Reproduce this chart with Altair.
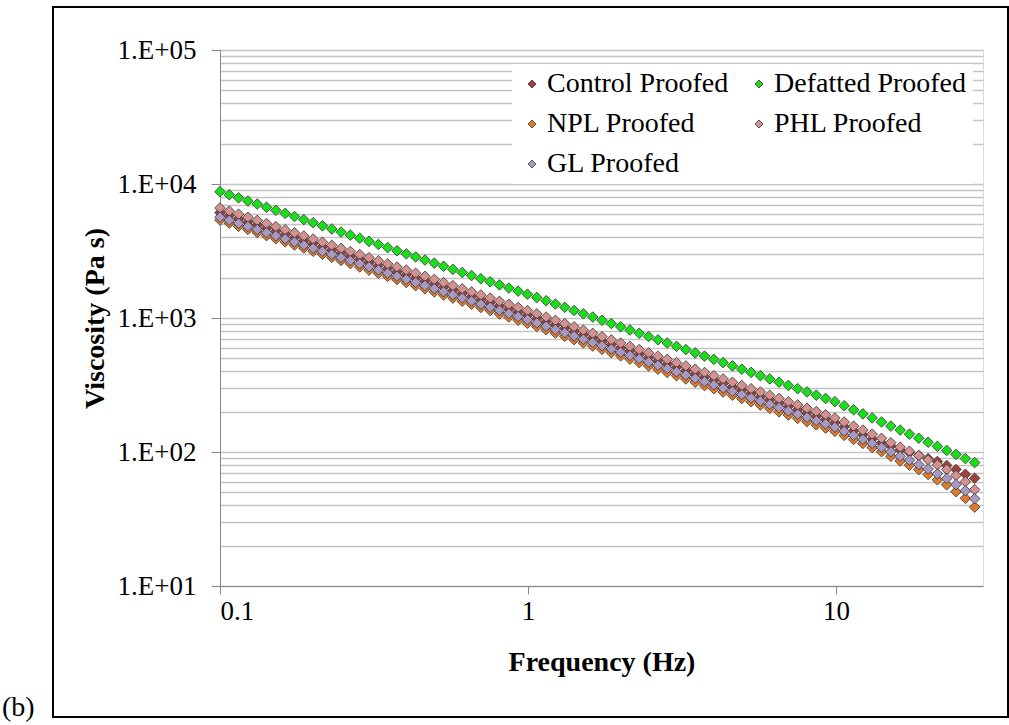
import altair as alt
import pandas as pd

FONT = "Liberation Serif"

# Frequency (Hz), one value per measured point
freq = [
    0.1, 0.1072, 0.1149, 0.1232, 0.1321, 0.1416, 0.1518, 0.1628, 0.1745, 0.1871,
    0.2006, 0.2151, 0.2306, 0.2472, 0.2650, 0.2842, 0.3047, 0.3267, 0.3502, 0.3755,
    0.4026, 0.4316, 0.4628, 0.4962, 0.5320, 0.5703, 0.6115, 0.6556, 0.7029, 0.7536,
    0.8080, 0.8663, 0.9288, 0.9958, 1.068, 1.145, 1.227, 1.316, 1.411, 1.512,
    1.622, 1.739, 1.864, 1.999, 2.143, 2.297, 2.463, 2.641, 2.831, 3.035,
    3.254, 3.489, 3.741, 4.011, 4.300, 4.610, 4.943, 5.299, 5.681, 6.091,
    6.530, 7.001, 7.506, 8.047, 8.628, 9.250, 9.915, 10.63, 11.40, 12.22,
    13.10, 14.05, 15.06, 16.15, 17.31, 18.56, 19.90, 21.33, 22.87, 24.52,
    26.29, 28.18,
]

control = [
    6110, 5793, 5492, 5206, 4935, 4678, 4435, 4203, 3985, 3779,
    3582, 3395, 3219, 3051, 2892, 2742, 2599, 2464, 2336, 2214,
    2100, 1990, 1887, 1789, 1695, 1608, 1523, 1445, 1369, 1298,
    1230, 1166, 1106, 1049, 991.8, 937.4, 886.2, 838.2, 792.1, 748.9,
    708.6, 669.9, 633.5, 599.0, 566.5, 535.6, 506.5, 478.8, 452.7, 428.2,
    404.8, 382.8, 361.9, 342.3, 323.6, 306.0, 289.4, 273.6, 258.6, 244.6,
    231.3, 218.8, 206.8, 195.6, 185.0, 174.9, 165.4, 154.3, 143.8, 134.2,
    125.2, 116.7, 110.8, 103.9, 99.1, 94.1, 89.2, 85.0, 79.4, 74.1,
    68.2, 63.7,
]

defatted = [
    8770, 8315, 7883, 7472, 7084, 6714, 6365, 6034, 5720, 5423,
    5140, 4873, 4620, 4379, 4152, 3936, 3731, 3537, 3353, 3178,
    3013, 2856, 2708, 2567, 2433, 2307, 2187, 2073, 1965, 1863,
    1766, 1674, 1587, 1505, 1423, 1345, 1272, 1203, 1137, 1075,
    1017, 961.6, 909.3, 859.8, 813.0, 768.7, 726.9, 687.3, 649.9, 614.5,
    581.1, 549.5, 519.5, 491.3, 464.5, 439.2, 415.3, 392.7, 371.3, 351.1,
    332.0, 314.1, 296.9, 280.8, 265.5, 251.0, 237.4, 221.4, 206.5, 192.6,
    179.6, 167.5, 156.2, 145.7, 135.9, 126.7, 118.2, 110.2, 102.8, 95.9,
    89.4, 83.4,
]

npl = [
    5380, 5101, 4836, 4584, 4345, 4118, 3905, 3701, 3508, 3327,
    3153, 2990, 2834, 2687, 2547, 2401, 2277, 2158, 2046, 1939,
    1839, 1743, 1653, 1567, 1485, 1408, 1334, 1265, 1199, 1137,
    1072, 1016, 963.5, 913.5, 863.7, 816.4, 772.0, 730.2, 690.1, 652.5,
    617.3, 583.6, 551.9, 521.9, 493.5, 464.1, 438.9, 415.0, 392.3, 371.0,
    350.8, 331.7, 313.6, 296.6, 280.4, 265.2, 250.8, 237.1, 224.1, 212.0,
    199.4, 188.6, 178.3, 168.6, 159.4, 150.8, 142.6, 133.0, 124.0, 115.7,
    107.9, 100.6, 92.9, 85.7, 79.8, 73.9, 68.0, 62.0, 56.9, 50.6,
    45.2, 38.8,
]

phl = [
    6623, 6279, 5953, 5643, 5349, 5070, 4807, 4556, 4319, 4096,
    3882, 3680, 3489, 3307, 3135, 2972, 2817, 2671, 2532, 2400,
    2276, 2157, 2045, 1939, 1837, 1743, 1651, 1566, 1484, 1407,
    1333, 1264, 1199, 1137, 1075, 1016, 960.5, 908.5, 858.6, 811.7,
    768.0, 726.1, 686.6, 649.3, 614.0, 580.5, 549.0, 519.0, 490.7, 464.1,
    438.8, 414.9, 392.3, 371.0, 350.7, 331.7, 313.7, 296.6, 280.3, 265.1,
    250.7, 237.2, 224.2, 212.0, 200.5, 189.6, 179.3, 167.2, 155.9, 145.5,
    135.7, 126.5, 117.4, 108.8, 101.4, 94.1, 87.2, 80.3, 74.1, 66.8,
    60.1, 52.4,
]

gl = [
    5663, 5369, 5090, 4825, 4574, 4335, 4110, 3896, 3693, 3502,
    3319, 3147, 2983, 2828, 2681, 2541, 2409, 2284, 2165, 2052,
    1946, 1844, 1749, 1658, 1571, 1490, 1412, 1339, 1269, 1203,
    1140, 1081, 1025, 971.8, 918.8, 868.5, 821.3, 776.8, 734.2, 694.1,
    656.7, 620.9, 587.1, 555.2, 525.0, 496.4, 469.4, 443.8, 419.6, 396.8,
    375.2, 354.8, 335.4, 317.2, 299.9, 283.6, 268.2, 253.6, 239.7, 226.7,
    214.4, 202.8, 191.7, 181.3, 171.4, 162.1, 153.3, 143.0, 133.3, 124.4,
    116.0, 108.2, 100.4, 93.0, 86.7, 80.5, 74.6, 68.7, 63.4, 57.1,
    51.4, 44.8,
]

series_names = ["Control Proofed", "Defatted Proofed", "NPL Proofed", "PHL Proofed", "GL Proofed"]
series_values = [control, defatted, npl, phl, gl]
colors = ["#A0413D", "#18E018", "#E07B2C", "#D4918F", "#A898C4"]

x_ticks = [0.1, 1, 10]
y_major = [10, 100, 1000, 10000, 100000]
y_minor = [k * m for m in [10, 100, 1000, 10000] for k in range(2, 10)]
y_all = sorted(y_major + y_minor)

rows = []
for order, (name, vals) in enumerate(zip(series_names, series_values)):
    assert len(vals) == len(freq), name
    for f, v in zip(freq, vals):
        rows.append({"Frequency": f, "Viscosity": v, "Series": name, "order": order})
df = pd.DataFrame(rows)

is_major = "abs(log(datum.value)/LN10 - round(log(datum.value)/LN10)) < 0.001"

points = alt.Chart(df).mark_point(
    shape="diamond", filled=True, size=112, stroke="#333333", strokeWidth=0.8, opacity=1
).encode(
    x=alt.X(
        "Frequency:Q",
        scale=alt.Scale(type="log", domain=[0.1, 30], nice=False),
        axis=alt.Axis(
            values=x_ticks, format="~g", grid=False, title="Frequency (Hz)",
            domainColor="#868686", tickColor="#868686", tickSize=8,
            labelFont=FONT, labelFontSize=27, labelColor="black", labelPadding=4,
            titleFont=FONT, titleFontSize=28, titleFontWeight="bold", titleColor="black",
            titlePadding=24, labelOverlap=False,
        ),
    ),
    y=alt.Y(
        "Viscosity:Q",
        scale=alt.Scale(type="log", domain=[10, 100000], nice=False),
        axis=alt.Axis(
            values=y_all,
            labelExpr=is_major + " ? '1.E+0' + round(log(datum.value)/LN10) : ''",
            tickOpacity={"condition": {"test": is_major, "value": 1}, "value": 0},
            grid=True, gridColor="#C4C4C4", gridWidth=1.3,
            domainColor="#868686", tickColor="#868686", tickSize=9,
            labelFont=FONT, labelFontSize=27, labelColor="black", labelPadding=15,
            titleFont=FONT, titleFontSize=28, titleFontWeight="bold", titleColor="black",
            titlePadding=8, title="Viscosity (Pa s)", labelOverlap=False,
        ),
    ),
    color=alt.Color(
        "Series:N",
        scale=alt.Scale(domain=series_names, range=colors),
        legend=alt.Legend(
            title=None, orient="none", legendX=292, legendY=14, columns=2,
            direction="horizontal",
            symbolType="diamond", symbolSize=64, symbolStrokeColor="#333333",
            symbolStrokeWidth=0.8, symbolOpacity=1,
            labelFont=FONT, labelFontSize=28, labelColor="black", labelOffset=1,
            labelLimit=400, rowPadding=12, columnPadding=16,
            fillColor="white", padding=6,
        ),
    ),
    order=alt.Order("order:Q"),
)

border = alt.Chart(pd.DataFrame({"a": [0]})).mark_rect(
    filled=False, stroke="black", strokeWidth=2
).encode(
    x=alt.value(-167), x2=alt.value(788), y=alt.value(-43), y2=alt.value(667)
)

panel_label = alt.Chart(pd.DataFrame({"t": ["(b)"]})).mark_text(
    font=FONT, fontSize=28, align="left", baseline="alphabetic", color="black"
).encode(text="t:N", x=alt.value(-218), y=alt.value(666))

chart = alt.layer(border, panel_label, points).properties(
    width=763,
    height=536,
    padding={"left": 220, "top": 50, "right": 26, "bottom": 139},
    autosize=alt.AutoSizeParams(type="none"),
).configure_view(stroke=None).configure(font=FONT)

chart.save("out.html", embed_options={"renderer": "svg", "actions": False})
